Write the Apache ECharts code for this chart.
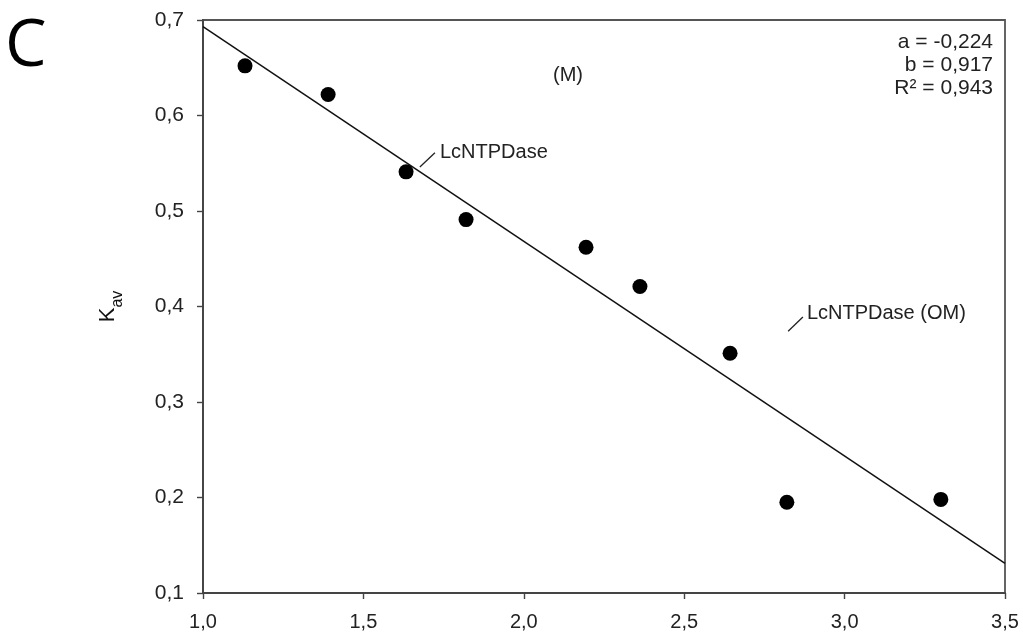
<!DOCTYPE html>
<html>
<head>
<meta charset="utf-8">
<script src="https://cdn.jsdelivr.net/npm/echarts@6/dist/echarts.min.js"></script>
<style>
  html, body { margin: 0; padding: 0; background: #fff; }
  #chart { width: 1023px; height: 637px; }
</style>
</head>
<body>
<div id="chart"></div>
<script>
// measured points (x, Kav)
const xValues = [1.131, 1.39, 1.633, 1.82, 2.194, 2.362, 2.643, 2.82, 3.30];
const kavValues = [0.652, 0.622, 0.541, 0.491, 0.462, 0.421, 0.351, 0.195, 0.198];
// regression line ends
const fitX = [1.0, 3.5];
const fitY = [0.693, 0.131];
const statLines = ["a = -0,224", "b = 0,917", "R² = 0,943"];

const font = "Liberation Sans, Arial, sans-serif";
const comma = (v) => v.toFixed(1).replace(".", ",");

const chart = echarts.init(document.getElementById("chart"));

const axisLine = { show: true, lineStyle: { color: "#444", width: 1.8 } };

chart.setOption({
  animation: false,
  grid: {
    left: 203, right: 18, top: 20, bottom: 44,
    show: true, borderColor: "#555", borderWidth: 1.8
  },
  xAxis: {
    type: "value", min: 1.0, max: 3.5, interval: 0.5,
    axisLine: axisLine,
    axisTick: { show: true, length: 6, lineStyle: { color: "#444", width: 1.4 } },
    axisLabel: { color: "#222", fontFamily: font, fontSize: 20, margin: 19, formatter: comma },
    splitLine: { show: false }
  },
  yAxis: {
    type: "value", min: 0.1, max: 0.7, interval: 0.1,
    axisLine: axisLine,
    axisTick: { show: true, length: 6, lineStyle: { color: "#444", width: 1.4 } },
    axisLabel: { color: "#222", fontFamily: font, fontSize: 21, margin: 19, formatter: comma },
    splitLine: { show: false },
    name: "{k|K}{s|av}",
    nameLocation: "middle",
    nameRotate: 90,
    nameGap: 84,
    nameTextStyle: {
      rich: {
        k: { fontFamily: font, fontSize: 22, color: "#111" },
        s: { fontFamily: font, fontSize: 16, color: "#111", verticalAlign: "bottom", padding: [0, 0, -7, 0] }
      }
    }
  },
  series: [
    {
      type: "line",
      data: fitX.map((x, i) => [x, fitY[i]]),
      symbol: "none",
      lineStyle: { color: "#111", width: 1.5 },
      z: 2
    },
    {
      type: "line",
      data: [[1.676, 0.546], [1.723, 0.561]],
      symbol: "none",
      lineStyle: { color: "#222", width: 1.3 }
    },
    {
      type: "line",
      data: [[2.824, 0.374], [2.870, 0.389]],
      symbol: "none",
      lineStyle: { color: "#222", width: 1.3 }
    },
    {
      type: "scatter",
      data: xValues.map((x, i) => [x, kavValues[i]]),
      symbolSize: 15,
      itemStyle: { color: "#000", opacity: 1 },
      z: 3
    }
  ]
});

const p1 = chart.convertToPixel({ gridIndex: 0 }, [1.723, 0.561]);
const p2 = chart.convertToPixel({ gridIndex: 0 }, [2.870, 0.389]);

chart.setOption({
  graphic: [
    { type: "text", x: 5, y: 47,
      style: { text: "C", font: "66px 'Open Sans', 'Noto Sans', sans-serif", fill: "#000",
               verticalAlign: "middle" } },
    { type: "text", x: 553, y: 75,
      style: { text: "(M)", font: "20px " + font, fill: "#222", verticalAlign: "middle" } },
    { type: "text", x: p1[0] + 5, y: p1[1],
      style: { text: "LcNTPDase", font: "20px " + font, fill: "#222", verticalAlign: "middle" } },
    { type: "text", x: p2[0] + 4, y: p2[1] - 4,
      style: { text: "LcNTPDase (OM)", font: "20px " + font, fill: "#222", verticalAlign: "middle" } },
    { type: "text", x: 993, y: 31,
      style: { text: statLines.join("\n"), font: "21px " + font, fill: "#222",
               align: "right", lineHeight: 23 } }
  ]
});
</script>
</body>
</html>
